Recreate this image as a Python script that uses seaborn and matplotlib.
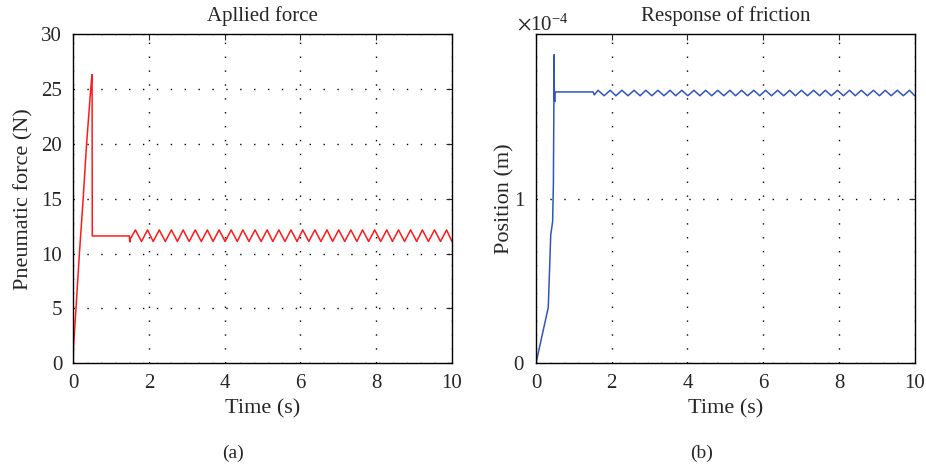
import matplotlib
matplotlib.use("Agg")
import matplotlib.pyplot as plt
import pandas as pd
import seaborn as sns
from matplotlib.ticker import ScalarFormatter

# ramp / drop of the applied force before the oscillation starts
force_start_t = [0.0, 0.005, 0.07, 0.16, 0.26, 0.35, 0.46, 0.495, 0.50, 1.48, 1.49, 1.50]
force_start_v = [0.0, 1.5, 5.0, 10.0, 15.0, 20.0, 25.0, 26.3, 11.6, 11.6, 11.05, 11.3]

# rise of the position (in units of 1e-4 m) before the oscillation starts
pos_start_t = [0.0, 0.325, 0.39, 0.44, 0.46, 0.475, 0.48, 0.485, 0.50, 0.505, 1.51, 1.54]
pos_start_v = [0.0, 0.34, 0.78, 0.86, 1.09, 1.65, 1.874, 1.60, 1.59, 1.648, 1.648, 1.63]

# oscillation: peak and trough times (same for both panels)
peak_t = [1.64, 1.96, 2.27, 2.59, 2.90, 3.22, 3.54, 3.85, 4.17, 4.48, 4.80, 5.12, 5.43, 5.75,
          6.06, 6.38, 6.70, 7.01, 7.33, 7.64, 7.96, 8.28, 8.59, 8.91, 9.22, 9.54, 9.86]
trough_t = [1.80, 2.11, 2.43, 2.75, 3.06, 3.38, 3.69, 4.01, 4.33, 4.64, 4.96, 5.27, 5.59, 5.91,
            6.22, 6.54, 6.85, 7.17, 7.49, 7.80, 8.12, 8.43, 8.75, 9.07, 9.38, 9.70, 10.0]

force_peak, force_trough = 12.15, 11.1
pos_peak, pos_trough = 1.658, 1.625


def build_series(start_t, start_v, peak, trough, scale=1.0):
    t = list(start_t)
    v = list(start_v)
    for p, q in zip(peak_t, trough_t):
        t += [p, q]
        v += [peak, trough]
    return pd.DataFrame({"time": t, "value": [x * scale for x in v]})


force_df = build_series(force_start_t, force_start_v, force_peak, force_trough)
pos_df = build_series(pos_start_t, pos_start_v, pos_peak, pos_trough, scale=1e-4)

sns.set_style("white")
plt.rcParams["font.family"] = ["Liberation Serif", "DejaVu Serif"]
plt.rcParams["mathtext.fontset"] = "stix"

fig = plt.figure(figsize=(9.26, 4.70), dpi=100)
ax1 = fig.add_axes([0.0792, 0.227, 0.4088, 0.7007])
ax2 = fig.add_axes([0.5788, 0.227, 0.4090, 0.7007])

sns.lineplot(data=force_df, x="time", y="value", ax=ax1, color="#ff1a1a",
             linewidth=1.1, estimator=None, sort=False)
sns.lineplot(data=pos_df, x="time", y="value", ax=ax2, color="#3355bb",
             linewidth=1.1, estimator=None, sort=False)

ax1.set_xlim(0, 10)
ax1.set_ylim(0, 30)
ax1.set_xticks([0, 2, 4, 6, 8, 10])
ax1.set_yticks([0, 5, 10, 15, 20, 25, 30])
ax1.set_title("Apllied force", fontsize=15, pad=9)
ax1.set_xlabel("Time (s)", fontsize=16, labelpad=4)
ax1.set_ylabel("Pneumatic force (N)", fontsize=16, labelpad=6)

ax2.set_xlim(0, 10)
ax2.set_ylim(0, 2e-4)
ax2.set_xticks([0, 2, 4, 6, 8, 10])
ax2.set_yticks([0, 1e-4])
fmt = ScalarFormatter(useMathText=True)
fmt.set_powerlimits((-3, 3))
ax2.yaxis.set_major_formatter(fmt)
offset = ax2.yaxis.get_offset_text()
offset.set_fontsize(15)
offset.set_x(-0.05)
ax2.set_title("Response of friction", fontsize=15, pad=9)
ax2.set_xlabel("Time (s)", fontsize=16, labelpad=4)
ax2.set_ylabel("Position (m)", fontsize=16, labelpad=-1)

for ax in (ax1, ax2):
    ax.grid(True, color="black", linestyle=(0, (1, 9)), linewidth=1.0)
    ax.tick_params(direction="in", length=4, width=0.8, top=True, right=True,
                   labelsize=15, pad=8)
    for s in ax.spines.values():
        s.set_color("black")
        s.set_linewidth(1.0)
    ax.set_axisbelow(True)

fig.text(0.2515, 0.036, "(a)", ha="center", va="center", fontsize=14)
fig.text(0.7575, 0.036, "(b)", ha="center", va="center", fontsize=14)

fig.savefig("out.png", dpi=100)
